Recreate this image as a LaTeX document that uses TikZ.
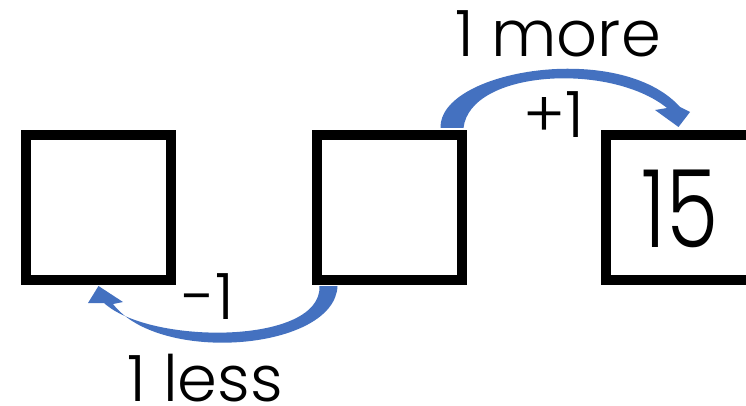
\documentclass[tikz,border=0pt]{standalone}
\usepackage{fontspec}
\setmainfont{Poppins Light}
\usetikzlibrary{calc}
\definecolor{arrowblue}{HTML}{4471C0}
\begin{document}
\begin{tikzpicture}[x=1pt,y=-1pt,
  numbox/.style={draw=black,line width=10pt,minimum width=145pt,minimum height=145pt,inner sep=0pt},
  lbl/.style={font=\fontsize{64}{68}\selectfont,inner sep=0pt},
  hoparrow/.style={fill=arrowblue,draw=none}]
\useasboundingbox (0,0) rectangle (746,406);
\clip (0,0) rectangle (746,406);
\node[numbox] (b1) at (98.5,207.5) {};
\node[numbox] (b2) at (389.5,207.5) {};
\node[numbox] (b3) at (678.5,207.5) {};
\node[font=\fontsize{108}{110}\selectfont,inner sep=0pt] (n15) at (680,209) {\scalebox{0.78}[1]{15}};
% upper arrow: b2 -> b3
\coordinate (ua) at ($(b2.north)+(51,0)$);
\coordinate (ub) at ($(b3.north)+(0,0)$);
\fill[hoparrow] ($(ua)+(0,-2)$) .. controls ($(ua)+(-2,-60)$) and (620,40) .. (680,107)
  -- (690,112) -- ($(ub)+(0,-3)$) -- (655,110) -- (667,108)
  .. controls (610,62) and (470,70) .. ($(ua)+(23,-2)$) -- cycle;
% lower arrow: b2 -> b1
\coordinate (la) at ($(b2.south)+(-70,1)$);
\coordinate (lb) at ($(b1.south)+(0,1)$);
\fill[hoparrow] ($(la)+(0,0)$) .. controls (322,345) and (150,345) .. (104,303)
  -- (88,303) -- ($(lb)+(0,0)$) -- (123,302) -- (113,304)
  .. controls (160,365) and (335,350) .. ($(la)+(18,0)$) -- cycle;
\node[lbl] (more) at (558,34) {1 more};
\node[lbl] (plus) at (554,115) {+1};
\node[lbl] (minus) at (208,297) {-1};
\node[lbl] (less) at (205,378) {1 less};
\end{tikzpicture}
\end{document}
